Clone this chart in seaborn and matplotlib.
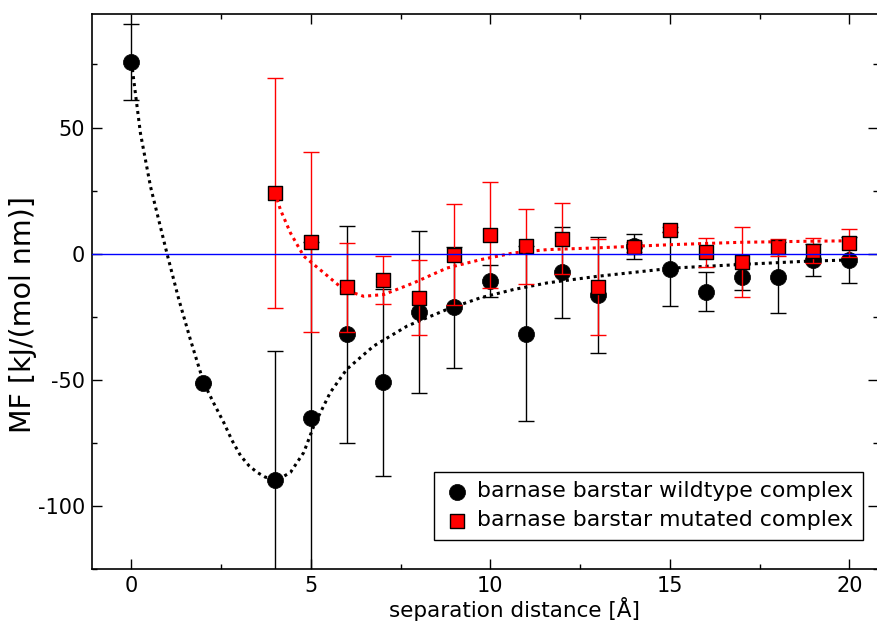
import numpy as np
import pandas as pd
import matplotlib
matplotlib.use("Agg")
import matplotlib.pyplot as plt
import seaborn as sns
from matplotlib.ticker import MultipleLocator

sns.set_theme(style="ticks")
plt.rcParams['font.family'] = ['DejaVu Sans']
plt.rcParams['axes.unicode_minus'] = False

# ---- data ----
wt_x = [0, 2, 4, 5, 6, 7, 8, 9, 10, 11, 12, 13, 14, 15, 16, 17, 18, 19, 20]
wt_y = [75.9, -51.4, -89.7, -65.2, -32.0, -51.0, -23.2, -21.2, -10.9, -31.7,
        -7.4, -16.3, 2.9, -6.0, -15.0, -9.2, -9.4, -2.4, -2.4]
wt_err = [15, 0, 51, 70, 43, 37, 32, 24, 6.3, 34.6, 18, 23, 5, 14.6, 7.8, 5.4,
          14, 6.3, 9.2]

mut_x = [4, 5, 6, 7, 8, 9, 10, 11, 12, 13, 14, 15, 16, 17, 18, 19, 20]
mut_y = [24.2, 4.6, -13.3, -10.3, -17.4, -0.4, 7.5, 2.9, 6.0, -13.3, 2.6, 9.4,
         0.5, -3.3, 2.5, 1.2, 4.2]
mut_err = [45.6, 35.5, 17.7, 9.5, 15, 20, 21, 15, 14, 19, 2, 1, 5.8, 14, 3.3,
           5, 5.4]

wt_fit_x = [0, 0.25, 0.53, 0.99, 1.32, 1.64, 2.01, 2.3, 2.57, 2.8, 3.04, 3.27,
            3.5, 3.73, 3.96, 4.2, 4.43, 4.8, 5.08, 5.54, 6.0, 6.75, 7.68, 8.79,
            9.72, 10.65, 11.58, 12.97, 15.1, 16.96, 18.8, 20]
wt_fit_y = [75.9, 47.7, 26.6, 0, -18.2, -34, -51.1, -59.5, -66.9, -74.0,
            -80.1, -84.0, -86.7, -88.6, -89.3, -88.6, -86.7, -78.8, -68.3,
            -55, -45.8, -36.6, -28.7, -22.1, -17.5, -14.2, -11.6, -9, -5.7,
            -4.3, -3, -2.5]

mut_fit_x = [4.0, 4.15, 4.43, 4.8, 5.36, 5.91, 6.47, 7.03, 7.86, 8.79, 9.72,
             10.65, 11.58, 12.97, 15.1, 16.96, 18.8, 20]
mut_fit_y = [24.2, 17.4, 8.2, -1, -7.6, -14.2, -16.9, -16.2, -11.6, -5.7, -2.4,
             0.3, 1.6, 2.3, 3.6, 4.5, 4.9, 5.1]

wt_label = "barnase barstar wildtype complex"
mut_label = "barnase barstar mutated complex"

wt_df = pd.DataFrame({"x": wt_x, "y": wt_y})
mut_df = pd.DataFrame({"x": mut_x, "y": mut_y})
wt_fit = pd.DataFrame({"x": wt_fit_x, "y": wt_fit_y})
mut_fit = pd.DataFrame({"x": mut_fit_x, "y": mut_fit_y})

fig = plt.figure(figsize=(8.77, 6.21), dpi=100)
ax = fig.add_axes([92 / 877, 1 - 569 / 621, 786 / 877, 555 / 621])

# black series
ax.errorbar(wt_x, wt_y, yerr=wt_err, fmt="none", ecolor="black", elinewidth=1,
            capsize=5.5, capthick=1, zorder=2)
sns.scatterplot(data=wt_df, x="x", y="y", ax=ax, marker="o", s=135,
                color="black", edgecolor="black", linewidth=0.5,
                label=wt_label, zorder=3)
sns.lineplot(data=wt_fit, x="x", y="y", ax=ax, color="black", lw=2.2,
             sort=False, estimator=None, zorder=4, legend=False)
ax.lines[-1].set_dashes((1, 1.3))

# red series
ax.errorbar(mut_x, mut_y, yerr=mut_err, fmt="none", ecolor="red", elinewidth=1,
            capsize=5.5, capthick=1, zorder=5)
sns.scatterplot(data=mut_df, x="x", y="y", ax=ax, marker="s", s=95,
                color="red", edgecolor="black", linewidth=1,
                label=mut_label, zorder=6)
sns.lineplot(data=mut_fit, x="x", y="y", ax=ax, color="red", lw=2.2,
             sort=False, estimator=None, zorder=7, legend=False)
ax.lines[-1].set_dashes((1, 1.3))

ax.axhline(0, color="blue", lw=1, zorder=8)

ax.set_xlim(-1.1, 20.8)
ax.set_ylim(-125, 95)
ax.xaxis.set_major_locator(MultipleLocator(5))
ax.xaxis.set_minor_locator(MultipleLocator(2.5))
ax.yaxis.set_major_locator(MultipleLocator(50))
ax.yaxis.set_minor_locator(MultipleLocator(25))
ax.tick_params(which="both", direction="in", top=True, right=True,
               labelsize=15, width=1, colors="black", labelcolor="black")
ax.tick_params(which="major", length=7.2, pad=5)
ax.tick_params(which="minor", length=3.6)
for s in ax.spines.values():
    s.set_linewidth(1.2)
    s.set_color("black")

ax.set_xlabel("separation distance [Å]", fontsize=15.5, color="black")
ax.xaxis.set_label_coords(0.538, -0.050)
ax.set_ylabel("MF [kJ/(mol nm)]", fontsize=20.5, color="black")
ax.yaxis.set_label_coords(-0.070, 0.458)

leg = ax.legend(loc="lower right", bbox_to_anchor=(0.981, 0.052),
                borderaxespad=0, fontsize=15.8, frameon=True, fancybox=False,
                framealpha=1, edgecolor="black", handletextpad=0.3,
                labelspacing=0.4, borderpad=0.45, handlelength=1.2)
leg.get_frame().set_linewidth(1)
for t in leg.get_texts():
    t.set_color("black")

fig.savefig("out.png", dpi=100)
